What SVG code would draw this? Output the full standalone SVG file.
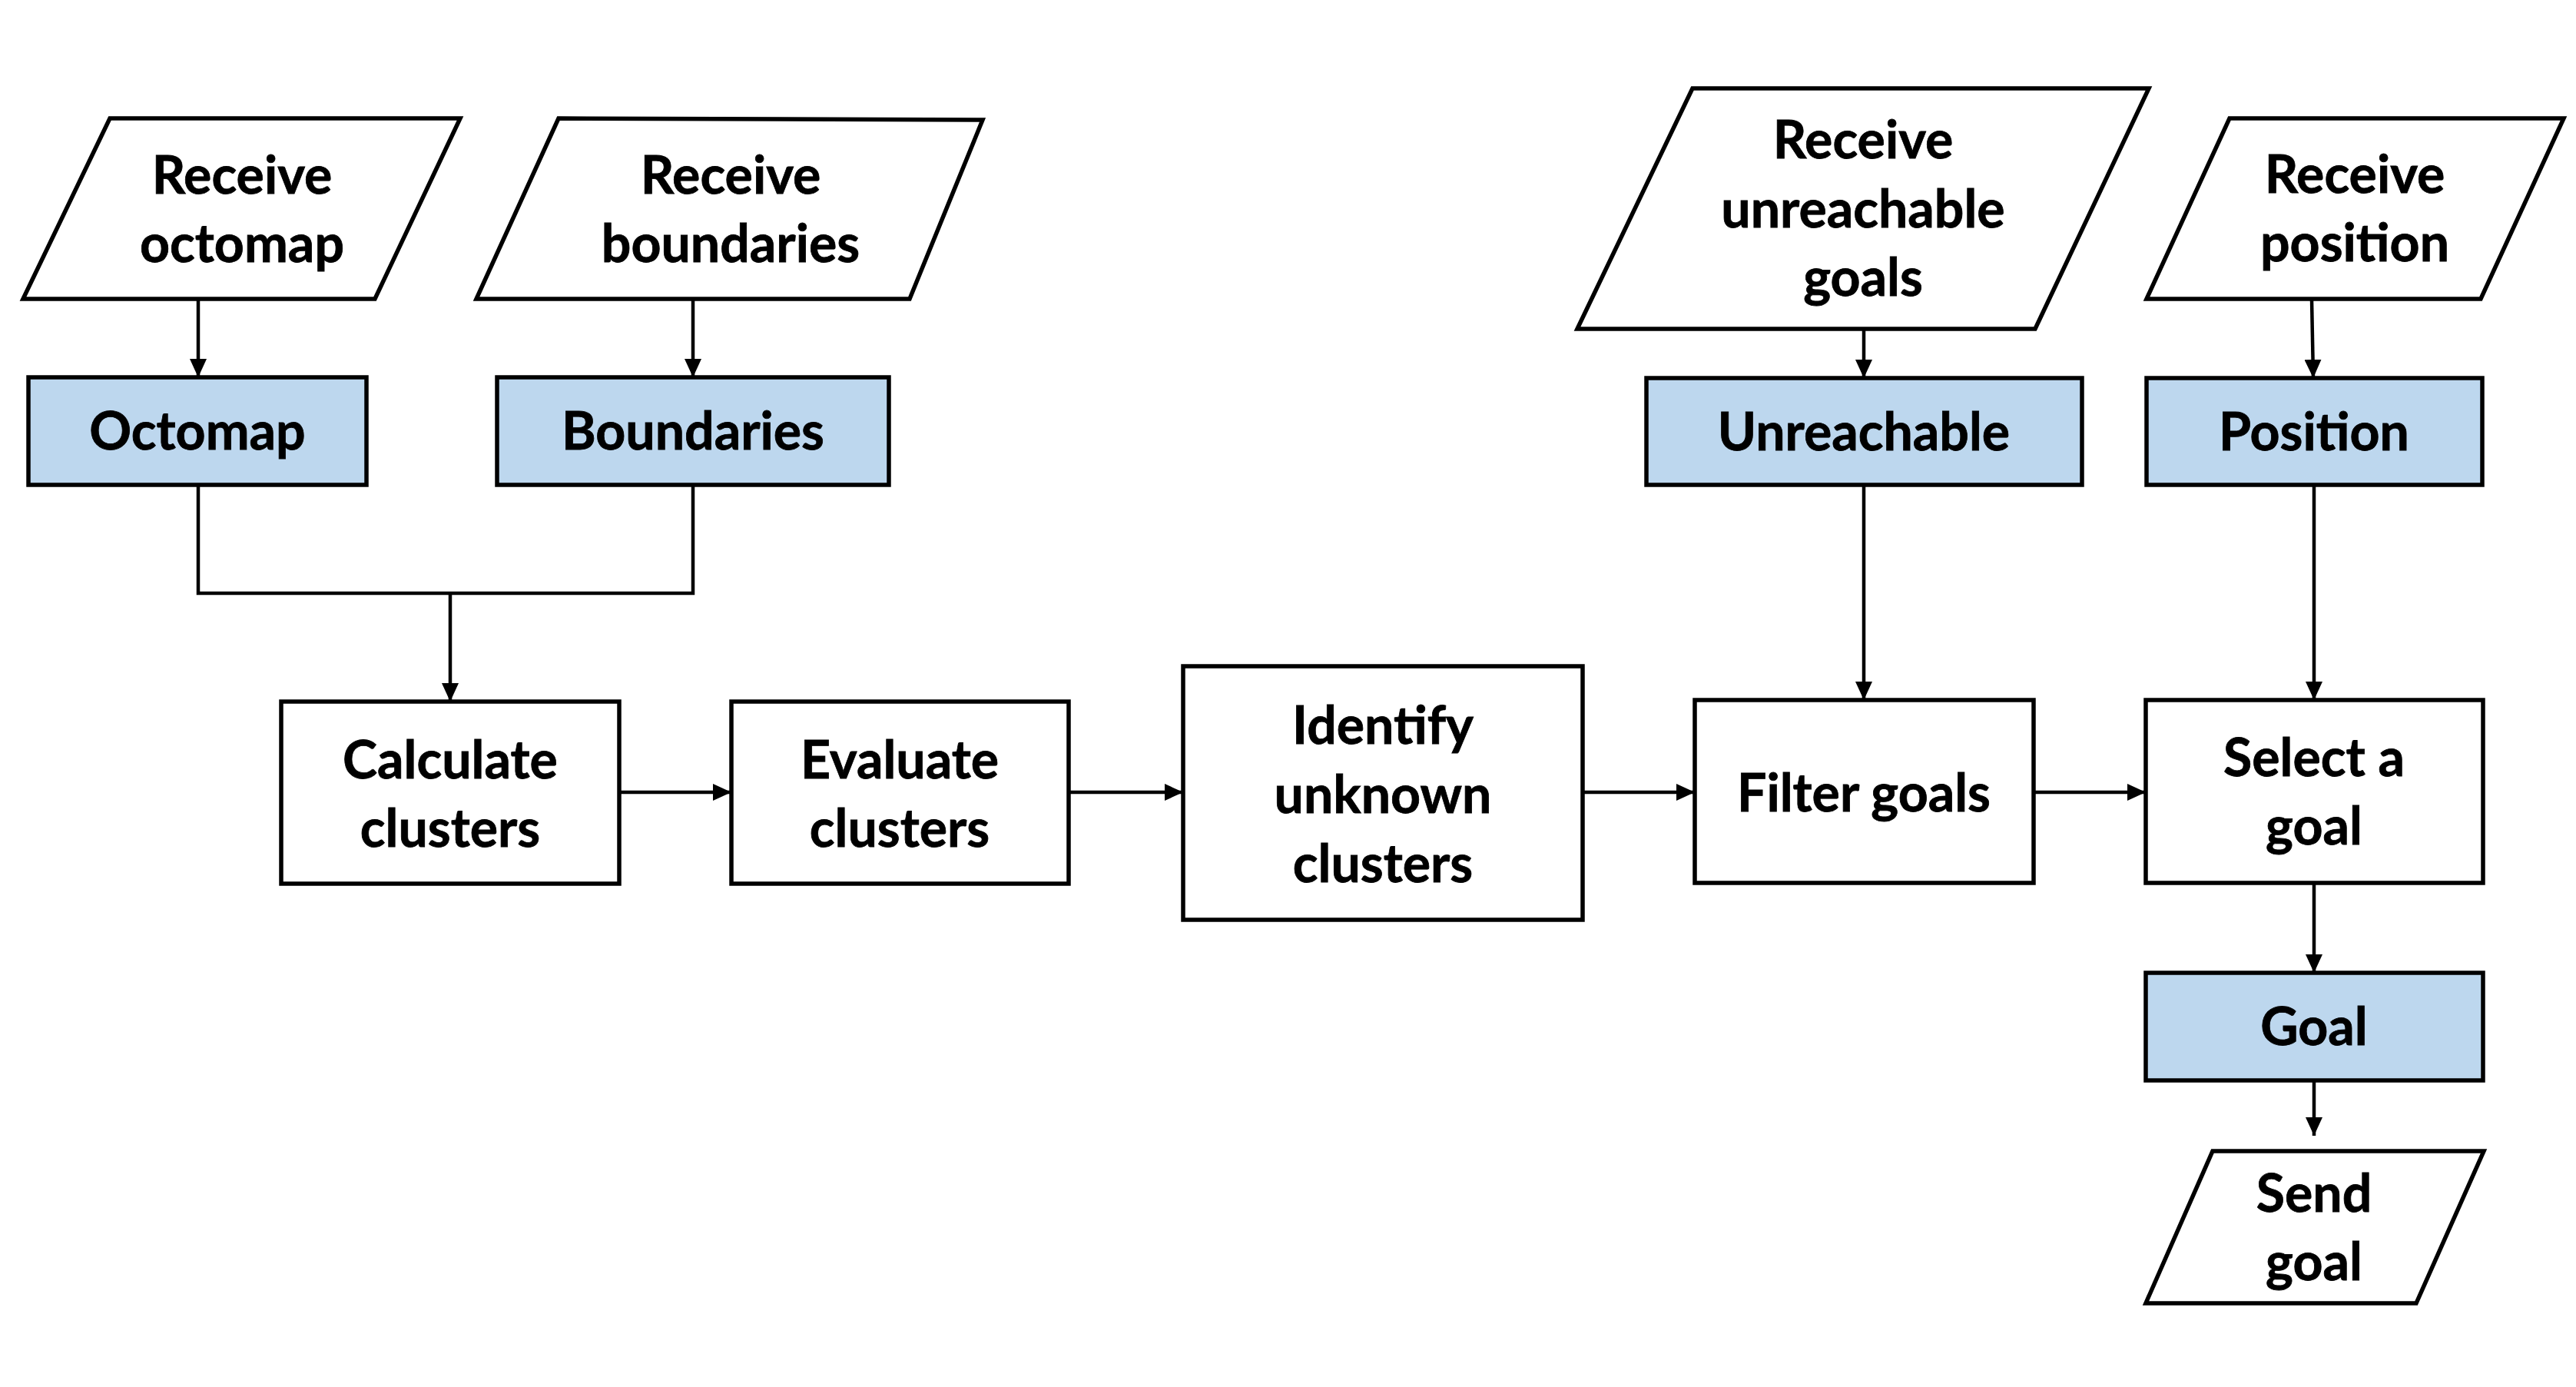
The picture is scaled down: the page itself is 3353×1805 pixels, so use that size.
<svg xmlns="http://www.w3.org/2000/svg" width="3353" height="1805" viewBox="0 0 3353 1805">
<defs>
<style>
.box{fill:#FFFFFF;stroke:#000000;stroke-width:5.5}
.data{fill:#BDD7EE;stroke:#000000;stroke-width:5.5}
.io{fill:#FFFFFF;stroke:#000000;stroke-width:5.5;stroke-linejoin:miter}
.lbl{font-family:Lato,"Open Sans","Liberation Sans",sans-serif;font-weight:700;font-size:68px;fill:#000000;text-anchor:middle;stroke:#000000;stroke-width:0.8}
.con{fill:none;stroke:#000000;stroke-width:4.5}
</style>
<marker id="arr" markerUnits="userSpaceOnUse" markerWidth="24" markerHeight="22" refX="24" refY="11" orient="auto">
<path d="M0,0 L24,11 L0,22 Z" fill="#000000"/>
</marker>
</defs>
<rect width="3353" height="1805" fill="#FFFFFF"/>

<g id="connectors">
<line class="con" x1="258" y1="389" x2="258" y2="491" marker-end="url(#arr)"/>
<line class="con" x1="902" y1="389" x2="902" y2="491" marker-end="url(#arr)"/>
<polyline class="con" points="258,631 258,772 902,772 902,631"/>
<line class="con" x1="586" y1="772" x2="586" y2="913" marker-end="url(#arr)"/>
<line class="con" x1="806" y1="1031" x2="952" y2="1031" marker-end="url(#arr)"/>
<line class="con" x1="1391" y1="1031" x2="1540" y2="1031" marker-end="url(#arr)"/>
<line class="con" x1="2060" y1="1031" x2="2206" y2="1031" marker-end="url(#arr)"/>
<line class="con" x1="2647" y1="1031" x2="2793" y2="1031" marker-end="url(#arr)"/>
<line class="con" x1="2426" y1="428" x2="2426" y2="492" marker-end="url(#arr)"/>
<line class="con" x1="3009" y1="389" x2="3011" y2="492" marker-end="url(#arr)"/>
<line class="con" x1="2426" y1="631" x2="2426" y2="911" marker-end="url(#arr)"/>
<line class="con" x1="3012" y1="631" x2="3012" y2="911" marker-end="url(#arr)"/>
<line class="con" x1="3012" y1="1149" x2="3012" y2="1266" marker-end="url(#arr)"/>
<line class="con" x1="3012" y1="1406" x2="3012" y2="1478" marker-end="url(#arr)"/>
</g>

<g id="receive-octomap">
<polygon class="io" points="143,154 599,154 488,389 30,389"/>
<text class="lbl" x="315" y="252">Receive</text>
<text class="lbl" x="315" y="341">octomap</text>
</g>

<g id="receive-boundaries">
<polygon class="io" points="727,154 1279,156 1184,389 620,389"/>
<text class="lbl" x="951" y="252">Receive</text>
<text class="lbl" x="951" y="341">boundaries</text>
</g>

<g id="octomap">
<rect class="data" x="37" y="491" width="440" height="140"/>
<text class="lbl" x="257" y="585">Octomap</text>
</g>

<g id="boundaries">
<rect class="data" x="647" y="491" width="510" height="140"/>
<text class="lbl" x="902" y="585">Boundaries</text>
</g>

<g id="calculate-clusters">
<rect class="box" x="366" y="913" width="440" height="237"/>
<text class="lbl" x="586" y="1013">Calculate</text>
<text class="lbl" x="586" y="1102">clusters</text>
</g>

<g id="evaluate-clusters">
<rect class="box" x="952" y="913" width="439" height="237"/>
<text class="lbl" x="1171" y="1013">Evaluate</text>
<text class="lbl" x="1171" y="1102">clusters</text>
</g>

<g id="identify-unknown-clusters">
<rect class="box" x="1540" y="867" width="520" height="330"/>
<text class="lbl" x="1800" y="968">Identify</text>
<text class="lbl" x="1800" y="1058">unknown</text>
<text class="lbl" x="1800" y="1148">clusters</text>
</g>

<g id="receive-unreachable-goals">
<polygon class="io" points="2203,115 2797,115 2649,428 2053,428"/>
<text class="lbl" x="2425" y="206">Receive</text>
<text class="lbl" x="2425" y="296">unreachable</text>
<text class="lbl" x="2425" y="385">goals</text>
</g>

<g id="receive-position">
<polygon class="io" points="2902,154 3337,154 3229,389 2794,389"/>
<text class="lbl" x="3065" y="251">Receive</text>
<text class="lbl" x="3065" y="340">position</text>
</g>

<g id="unreachable">
<rect class="data" x="2143" y="492" width="567" height="139"/>
<text class="lbl" x="2426" y="586">Unreachable</text>
</g>

<g id="position">
<rect class="data" x="2794" y="492" width="437" height="139"/>
<text class="lbl" x="3012" y="586">Position</text>
</g>

<g id="filter-goals">
<rect class="box" x="2206" y="911" width="441" height="238"/>
<text class="lbl" x="2426" y="1056">Filter goals</text>
</g>

<g id="select-a-goal">
<rect class="box" x="2793" y="911" width="439" height="238"/>
<text class="lbl" x="3012" y="1010">Select a</text>
<text class="lbl" x="3012" y="1099">goal</text>
</g>

<g id="goal">
<rect class="data" x="2793" y="1266" width="439" height="140"/>
<text class="lbl" x="3012" y="1360">Goal</text>
</g>

<g id="send-goal">
<polygon class="io" points="2880,1498 3233,1498 3145,1696 2793,1696"/>
<text class="lbl" x="3012" y="1577">Send</text>
<text class="lbl" x="3012" y="1666">goal</text>
</g>
</svg>
